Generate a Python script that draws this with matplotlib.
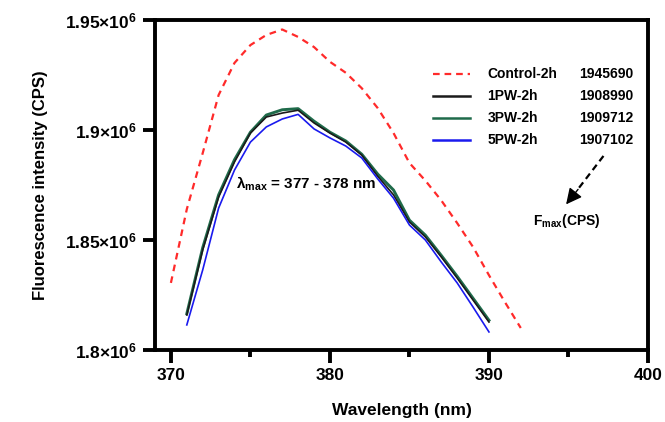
import matplotlib
matplotlib.use("Agg")
import matplotlib.pyplot as plt
from matplotlib.ticker import FixedLocator

plt.rcParams['font.family'] = ['Liberation Sans', 'DejaVu Sans']
plt.rcParams['font.weight'] = 'bold'
plt.rcParams['mathtext.fontset'] = 'custom'
plt.rcParams['mathtext.rm'] = 'Liberation Sans:bold'
plt.rcParams['mathtext.default'] = 'regular'

# ---- data ----
wl_control = [370, 371, 372, 373, 374, 375, 376, 377, 378, 379, 380, 381,
              382, 383, 384, 385, 386, 387, 388, 389, 390, 391, 392]
control = [1830500, 1864000, 1889500, 1915900, 1930500, 1938600, 1943200,
           1945690, 1942300, 1937700, 1931000, 1926000, 1919000, 1910000,
           1898600, 1885000, 1877000, 1868000, 1857700, 1846800, 1834000,
           1821800, 1810000]

wl = [371, 372, 373, 374, 375, 376, 377, 378, 379, 380, 381, 382, 383, 384,
      385, 386, 387, 388, 389, 390]
pw1 = [1815900, 1845500, 1869500, 1885500, 1898600, 1905900, 1907700,
       1908990, 1903200, 1898600, 1894500, 1888600, 1879000, 1870500,
       1858200, 1851400, 1842300, 1832700, 1822700, 1812700]
pw3 = [1816500, 1846500, 1870500, 1886500, 1899000, 1906800, 1909200,
       1909712, 1904000, 1899000, 1895000, 1889000, 1880000, 1872700,
       1859000, 1852200, 1843000, 1833500, 1823500, 1813500]
pw5 = [1811400, 1836400, 1864500, 1881800, 1894500, 1901400, 1905000,
       1907102, 1900500, 1896400, 1892700, 1887300, 1877800, 1869000,
       1856800, 1850000, 1840000, 1830500, 1819500, 1808200]

labels = ['Control-2h', '1PW-2h', '3PW-2h', '5PW-2h']
fmax_vals = ['1945690', '1908990', '1909712', '1907102']
colors = ['#ff2a2a', '#1a1a1a', '#1f6b4a', '#1a1aee']

yticks = [1.80e6, 1.85e6, 1.90e6, 1.95e6]
ytick_labels = ['1.8×10$^{6}$', '1.85×10$^{6}$', '1.9×10$^{6}$', '1.95×10$^{6}$']
xticks = [370, 380, 390, 400]

# ---- figure ----
fig = plt.figure(figsize=(6.65, 4.22), dpi=100)
ax = fig.add_axes([155/665, 1-350/422, (648-155)/665, (350-20)/422])

ax.plot(wl_control, control, color=colors[0], lw=1.6, ls=(0, (3, 2.4)), zorder=3)
ax.plot(wl, pw3, color=colors[2], lw=2.1, zorder=3)
ax.plot(wl, pw1, color=colors[1], lw=1.2, zorder=4)
ax.plot(wl, pw5, color=colors[3], lw=1.2, zorder=5)

ax.set_xlim(369, 400)
ax.set_ylim(1.8e6, 1.95e6)

ax.set_yticks(yticks)
ax.set_yticklabels(ytick_labels)
ax.set_xticks(xticks)
ax.xaxis.set_minor_locator(FixedLocator([375, 385, 395]))

for s in ax.spines.values():
    s.set_linewidth(2.8)
ax.tick_params(axis='both', which='major', width=2.8, length=9, labelsize=12.5, pad=4)
ax.tick_params(axis='x', which='minor', width=2.8, length=5)
ax.tick_params(axis='y', which='minor', length=0)

ax.set_xlabel('Wavelength (nm)', fontsize=12.5, fontweight='bold', labelpad=14)
ax.set_ylabel('Fluorescence intensity (CPS)', fontsize=12, fontweight='bold', labelpad=12)

# legend-like annotation block
row_y = [1.92545e6, 1.91545e6, 1.90545e6, 1.89545e6]
styles = [(0, (3, 2.2)), '-', '-', '-']
lws = [1.6, 1.8, 1.8, 1.8]
for lab, val, c, ls, lw, y in zip(labels, fmax_vals, colors, styles, lws, row_y):
    ax.plot([386.5, 388.8], [y, y], color=c, ls=ls, lw=lw, clip_on=False)
    ax.text(389.9, y, lab, fontsize=10, fontweight='bold', va='center', ha='left')
    ax.text(399.1, y, val, fontsize=10, fontweight='bold', va='center', ha='right')

# dashed arrow pointing to the F_max label
arrow_x = [397.2, 395.5]
arrow_y = [1.8882e6, 1.8722e6]
ax.plot(arrow_x, arrow_y, color='black', lw=1.6, ls=(0, (3, 2)))
ax.annotate('', xy=(394.85, 1.8662e6), xytext=(395.6, 1.8730e6),
            arrowprops=dict(arrowstyle='-|>', color='black', lw=1.0,
                            mutation_scale=24, shrinkA=0, shrinkB=0))
ax.text(392.8, 1.8588e6, 'F$_{max}$(CPS)', fontsize=10, fontweight='bold',
        va='center', ha='left')

ax.text(374.1, 1.8755e6, 'λ$_{max}$ = 377 - 378 nm', fontsize=11,
        fontweight='bold', va='center', ha='left')

fig.savefig('out.png', dpi=100)
